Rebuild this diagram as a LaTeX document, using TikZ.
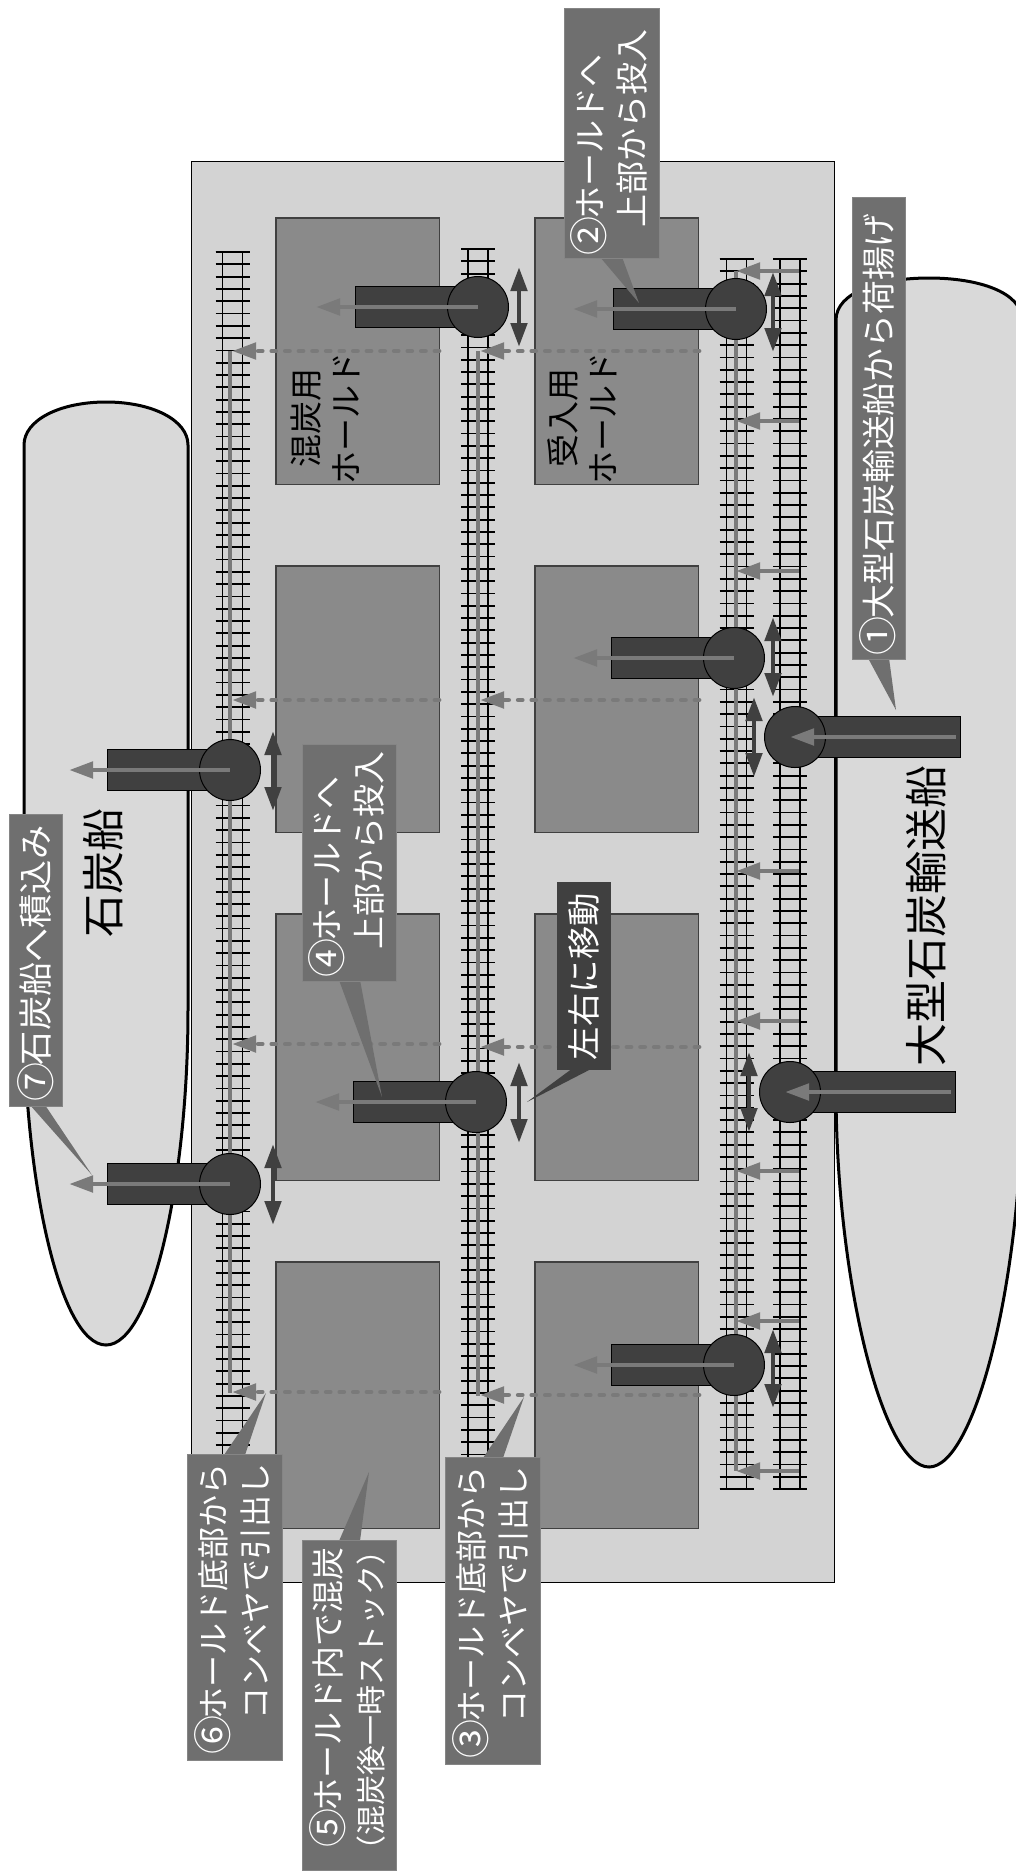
\documentclass[tikz,border=0pt]{standalone}
\usepackage{fontspec}
\usetikzlibrary{arrows.meta}
\newfontfamily\cjk{Noto Sans CJK JP}
\definecolor{yard}{HTML}{D3D3D3}
\definecolor{ship}{HTML}{D9D9D9}
\definecolor{hold}{HTML}{8A8A8A}
\definecolor{crane}{HTML}{404040}
\definecolor{flow}{HTML}{7A7A7A}
\definecolor{call}{HTML}{6F6F6F}
\newcommand{\stepnum}[1]{\makebox[1em]{\smash{\raisebox{-0.8pt}{\fontsize{19.5}{21}\selectfont #1}}}}
\newcommand{\tailgap}[1]{\kern#1\null}
\tikzset{
  shiphull/.style={fill=ship, draw=black, line width=1.5pt},
  holdbox/.style={fill=hold, draw=crane, line width=0.6pt},
  tie/.style={line width=0.9pt},
  flowline/.style={draw=flow, line width=2.4pt},
  flowarrow/.style={flowline, -{Triangle[length=12pt,width=8pt]}},
  flowdash/.style={flowarrow, line cap=round, dash pattern=on 2pt off 4.8pt},
  movearrow/.style={draw=crane, line width=2.4pt, {Triangle[length=12pt,width=8pt]}-{Triangle[length=12pt,width=8pt]}},
  arm/.style={fill=crane, draw=black, line width=0.5pt},
  hub/.style={circle, fill=crane, draw=black, line width=0.5pt, minimum size=30.5pt, inner sep=0pt},
  callbox/.style={fill=call, draw=call!85!white, line width=0.3pt, text=white, rotate=90, inner sep=0pt, align=left, font=\cjk\fontsize{16.5}{21}\selectfont},
  holdtext/.style={rotate=90, inner sep=0pt, align=center, font=\cjk\fontsize{16.5}{20}\selectfont},
  shiptext/.style={rotate=90, inner sep=0pt, font=\cjk\fontsize{21.5}{24}\selectfont}
}
\begin{document}
\begin{tikzpicture}[x=0.5pt, y=-0.5pt]
    \clip (0,0) rectangle (1016,1876);
    \fill[white] (0,0) rectangle (1016,1876);
    % yard and ships
    \draw[fill=yard, draw=black, line width=0.5pt] (191,161) rectangle (834,1582);
    \draw[shiphull] (836,320) .. controls (836,292) and (880,278) .. (929,278) .. controls (978,278) and (1022,292) .. (1022,320) -- (1022,1090) .. controls (1022,1280) and (975,1467) .. (929,1467) .. controls (883,1467) and (836,1280) .. (836,1090) -- cycle;
    \draw[shiphull] (24,445) .. controls (24,420) and (60,402) .. (106,402) .. controls (152,402) and (188,420) .. (188,445) -- (188,1010) .. controls (188,1180) and (152,1345) .. (106,1345) .. controls (60,1345) and (24,1180) .. (24,1010) -- cycle;
    \node[shiptext] (bigship) at (926,916) {大型石炭輸送船};
    \node[shiptext] (smallship) at (103,873) {石炭船};
    % holds
    \foreach \hx in {276,535} \foreach \hy in {218,566,914,1262}
        \draw[holdbox] (\hx,\hy) rectangle +(163.5,266.5);
    \node[holdtext] (mixhold) at (325,418) {混炭用\\ホールド};
    \node[holdtext] (inhold) at (582,418) {受入用\\ホールド};
    % tracks
    \foreach \tx/\ttop in {232.5/252, 478/249, 736.5/259, 790/259} {
        \foreach \k in {0,...,100} {
            \draw[tie] (\tx-17,\ttop+\k*12.3) -- (\tx+17,\ttop+\k*12.3);
        }
        \foreach \k in {0,...,10} {
            \draw[line width=1.3pt] (\tx-17,\ttop+\k*123) -- (\tx+17,\ttop+\k*123);
        }
        \draw[tie] (\tx-10,\ttop) -- (\tx-10,\ttop+1230);
        \draw[tie] (\tx+10,\ttop) -- (\tx+10,\ttop+1230);
    }
    % conveyors
    \draw[flowline] (230,351) -- (230,1393);
    \draw[flowline] (478,351) -- (478,1396);
    \draw[flowline] (736,271) -- (736,1471);
    \foreach \y in {271,421,571,871,1021,1171,1321,1471}
        \draw[flowarrow] (799,\y) -- (736,\y);
    \foreach \y in {351,700,1047,1395} \draw[flowdash] (699,\y) -- (480,\y);
    \foreach \y in {351,700,1044,1392} \draw[flowdash] (439,\y) -- (232,\y);
    % cranes over the holds
    \foreach \cx/\cy/\armx/\tipx/\cname in {736/309/613/573/cranea, 734/658/611/573/craneb, 734/1365/611/573/cranec, 478/307/355/316/craned, 476/1102/353/315/cranee, 230/770/107/69/cranef, 230/1184/107/69/craneg} {
        \draw[arm] (\armx,\cy-20.5) rectangle (\cx,\cy+20.5);
        \node[hub] (\cname) at (\cx,\cy) {};
        \coordinate (\cname tip) at (\tipx,\cy);
        \draw[flowarrow] (\cname.center) -- (\cname tip);
    }
    % unloaders from the big ship
    \foreach \cx/\cy/\armx/\startx/\tipx/\cname in {795/737/960/956/790/unloada, 790/1092/955/951/785/unloadb} {
        \draw[arm] (\cx,\cy-20.5) rectangle (\armx,\cy+20.5);
        \node[hub] (\cname) at (\cx,\cy) {};
        \coordinate (\cname start) at (\startx,\cy);
        \draw[flowarrow] (\cname start) -- (\cx-5,\cy);
    }
    % moving directions
    \foreach \mx/\mya/\myb in {773/272/352, 773/617/697, 773/1329/1408, 754/697/777, 749/1052/1132, 519/267/347, 519/1062/1143, 273/731/811, 273/1144/1225}
        \draw[movearrow] (\mx,\mya) -- (\mx,\myb);
    % callout tails
    \foreach \xa/\xb/\yb/\tx/\ty in {868/889/658/896/710, 600/622/257/639/303, 483/503/1458/524/1397, 339/360/980/382/1097, 339/360/1541/369/1472, 224/245/1455/266/1393, 30/45/1105/92/1175}
        \fill[call] (\xa,\yb) -- (\tx,\ty) -- (\xb,\yb) -- cycle;
    \fill[crane] (573,1068) -- (527,1102) -- (593,1068) -- cycle;
    % callouts
    \node[callbox, minimum width=231pt, minimum height=26.5pt, font=\cjk\fontsize{16.9}{21}\selectfont] (stepa) at (878.5,428) {\stepnum{①}大型石炭輸送船から荷揚げ\tailgap{5pt}};
    \node[callbox, minimum width=125pt, minimum height=47.5pt] (stepb) at (611.5,133) {\stepnum{②}ホールドへ\\\hspace*{12.5pt}上部から投入\tailgap{8pt}};
    \node[callbox, minimum width=153.5pt, minimum height=47.5pt, font=\cjk\fontsize{16}{21}\selectfont] (stepc) at (492.5,1610.5) {\stepnum{③}ホールド底部から\\\hspace*{16pt}コンベヤで引出し};
    \node[callbox, minimum width=118.5pt, minimum height=47pt] (stepd) at (349,862.5) {\stepnum{④}ホールドへ\\\hspace*{12.5pt}上部から投入};
    \node[callbox, minimum width=165pt, minimum height=47pt] (stepe) at (349,1705) {\hspace*{9pt}\stepnum{⑤}ホールド内で混炭\\{\fontsize{15}{21}\selectfont\kern-1.25pt（混炭後一時ストック）\kern-7.5pt\null}};
    \node[callbox, minimum width=153pt, minimum height=47.5pt, font=\cjk\fontsize{16}{21}\selectfont] (stepf) at (234.5,1607) {\stepnum{⑥}ホールド底部から\\\hspace*{16pt}コンベヤで引出し};
    \node[callbox, minimum width=146pt, minimum height=26.5pt, font=\cjk\fontsize{17.1}{21}\selectfont] (stepg) at (35.5,960) {\stepnum{⑦}石炭船へ積込み\tailgap{2.5pt}};
    \node[callbox, fill=crane, draw=crane, minimum width=93.5pt, minimum height=26.5pt, font=\cjk\fontsize{16.7}{21}\selectfont] (movenote) at (583.5,975.5) {左右に移動\tailgap{1pt}};
\end{tikzpicture}
\end{document}
